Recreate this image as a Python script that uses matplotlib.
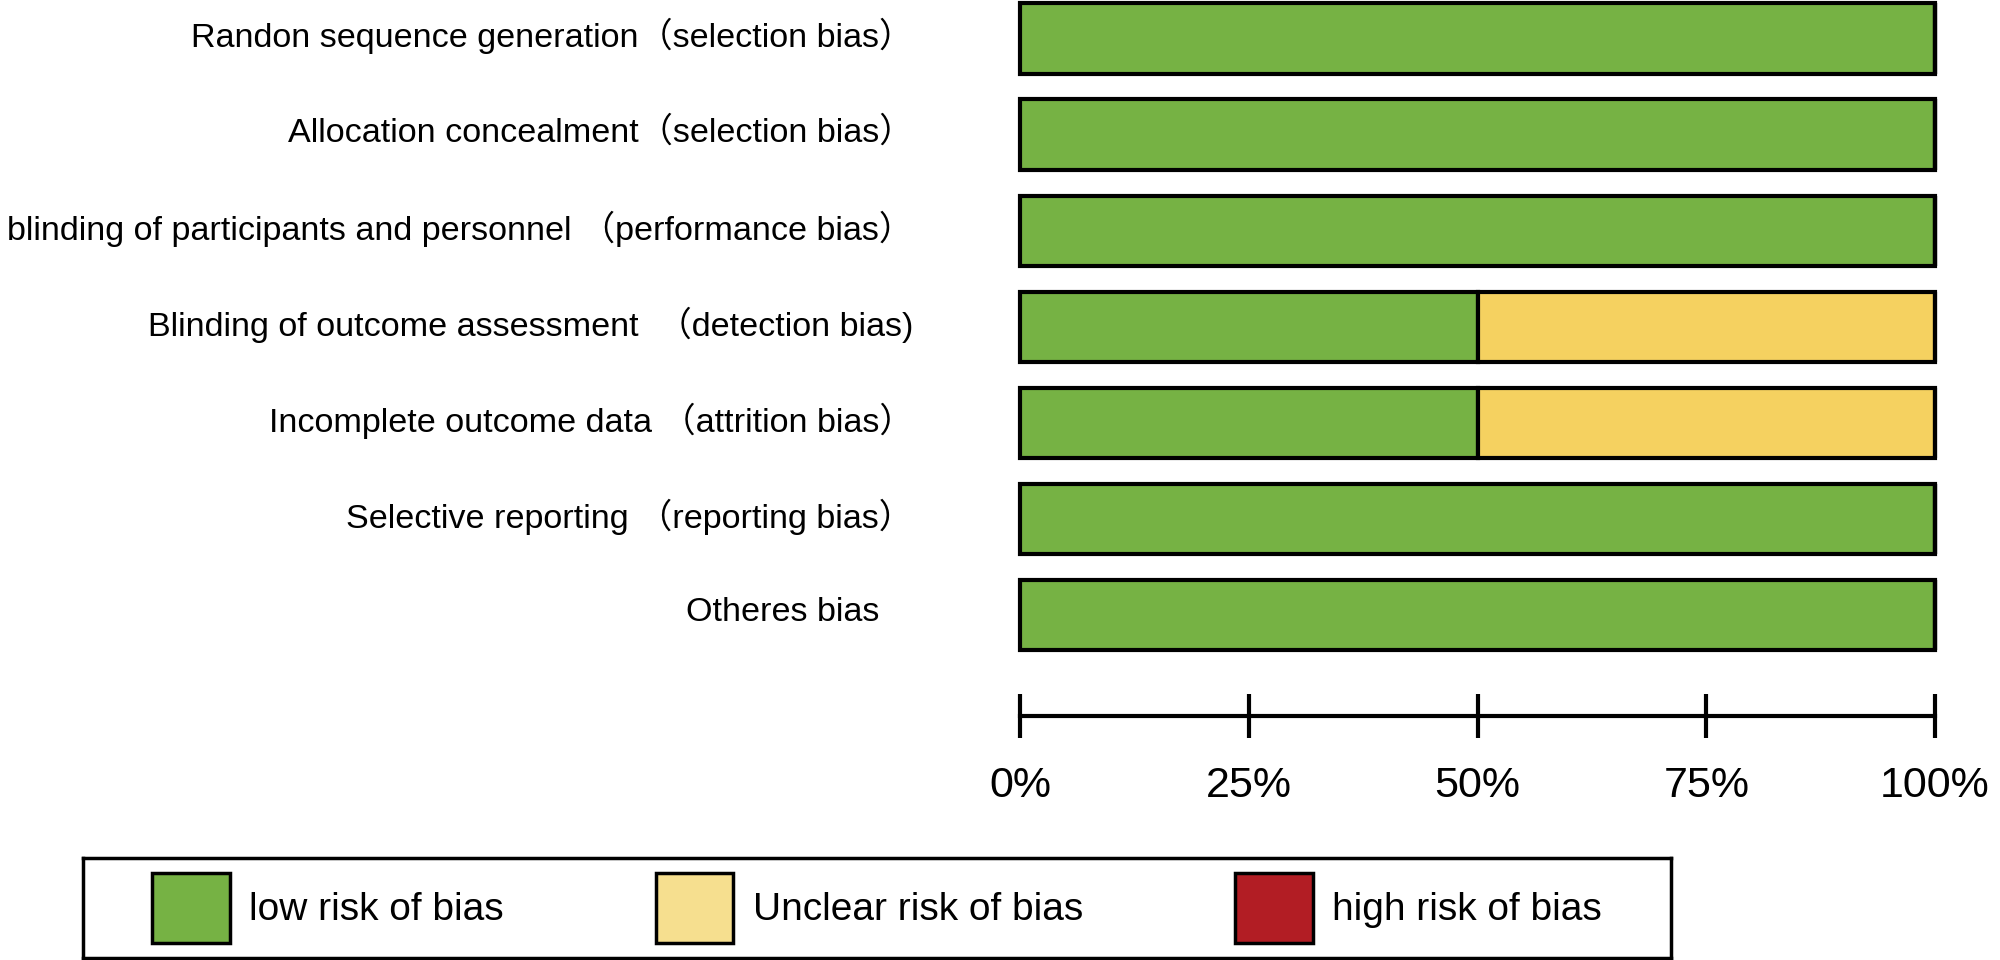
import matplotlib
matplotlib.use("Agg")
import matplotlib.pyplot as plt
from matplotlib import font_manager
from matplotlib.patches import Patch
from matplotlib.transforms import ScaledTranslation

# ---------------- data ----------------
categories = [
    "Randon sequence generation（selection bias）",
    "Allocation concealment（selection bias）",
    "blinding of participants and personnel （performance bias）",
    "Blinding of outcome assessment  （detection bias)",
    "Incomplete outcome data （attrition bias）",
    "Selective reporting （reporting bias）",
    "Otheres bias\u3000",
]
low = [100, 100, 100, 50, 50, 100, 100]
unclear = [0, 0, 0, 50, 50, 0, 0]
high = [0, 0, 0, 0, 0, 0, 0]
ticks = [0, 25, 50, 75, 100]
tick_labels = ["0%", "25%", "50%", "75%", "100%"]
legend_labels = ["low risk of bias", "Unclear risk of bias", "high risk of bias"]

# ---------------- style ----------------
GREEN = "#76B244"
YELLOW = "#F5D160"
YELLOW_LEG = "#F6DF8F"
RED = "#B21D24"

names = {f.name for f in font_manager.fontManager.ttflist}
if "Liberation Sans Narrow" in names:
    cat_family = ["Liberation Sans Narrow", "Noto Sans CJK SC", "DejaVu Sans"]
    cat_size = 30
else:
    cat_family = ["Liberation Sans", "Noto Sans CJK SC", "DejaVu Sans"]
    cat_size = 24.6

plt.rcParams["font.family"] = ["Liberation Sans", "Noto Sans CJK SC", "DejaVu Sans"]

fig = plt.figure(figsize=(20, 9.6), dpi=100)

# ---------------- bars ----------------
ax = fig.add_axes([0.51, 0.3, 0.4575, 0.7])
ypos = list(range(len(categories)))
left2 = [a for a in low]
left3 = [a + b for a, b in zip(low, unclear)]
containers = [
    ax.barh(ypos, low, height=0.73, color=GREEN, edgecolor="black", linewidth=3),
    ax.barh(ypos, unclear, left=left2, height=0.73, color=YELLOW, edgecolor="black", linewidth=3),
    ax.barh(ypos, high, left=left3, height=0.73, color=RED, edgecolor="black", linewidth=3),
]
for c in containers:
    for p in c:
        p.set_clip_on(False)
ax.set_xlim(0, 100)
ax.set_ylim(6.594, -0.40)
ax.set_xticks([])
ax.set_yticks(ypos)
ax.set_yticklabels(categories, fontfamily=cat_family, fontsize=cat_size)
ax.tick_params(axis="y", length=0, pad=77)
shift = ScaledTranslation(0, 4 / 72, fig.dpi_scale_trans)
for lab in ax.get_yticklabels():
    lab.set_transform(lab.get_transform() + shift)
for s in ax.spines.values():
    s.set_visible(False)

# ---------------- scale ----------------
ax2 = fig.add_axes([0.51, 0.2542, 0.4575, 0.0001])
ax2.set_xlim(0, 100)
ax2.set_yticks([])
for k in ("top", "left", "right"):
    ax2.spines[k].set_visible(False)
ax2.spines["bottom"].set_linewidth(3)
ax2.set_xticks(ticks)
ax2.set_xticklabels(tick_labels, fontsize=31)
ax2.tick_params(axis="x", direction="inout", length=32, width=3, pad=20)
ax2.patch.set_visible(False)

# ---------------- legend ----------------
axl = fig.add_axes([83 / 2000, 2 / 960, 1588 / 2000, 100 / 960])
axl.set_xticks([])
axl.set_yticks([])
for s in axl.spines.values():
    s.set_linewidth(2.5)
handles = [
    Patch(facecolor=GREEN, edgecolor="black", linewidth=2.5),
    Patch(facecolor=YELLOW_LEG, edgecolor="black", linewidth=2.5),
    Patch(facecolor=RED, edgecolor="black", linewidth=2.5),
]
axl.legend(handles, legend_labels, loc="center", ncol=3, frameon=False,
           fontsize=28, handlelength=2.0, handleheight=2.4,
           handletextpad=0.5, columnspacing=3.9, borderaxespad=0)

fig.savefig("out.png", dpi=100)
